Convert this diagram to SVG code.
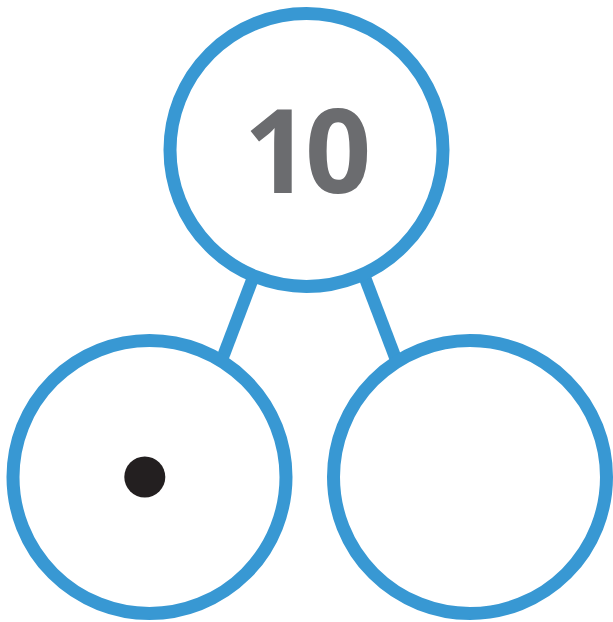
<svg xmlns="http://www.w3.org/2000/svg" width="613" height="622" viewBox="0 0 613 622">
  <style>
    .ring { fill: #ffffff; stroke: #3898d3; stroke-width: 13; }
    .conn { stroke: #3898d3; stroke-width: 12.5; fill: none; }
    .num { font-family: "Open Sans", "Liberation Sans", sans-serif; font-weight: 700; font-size: 116px; letter-spacing: -5px; fill: #6b6c6f; }
  </style>
  <rect width="613" height="622" fill="#ffffff"/>
  <g id="connectors">
    <line class="conn" x1="256" y1="270" x2="221" y2="362"/>
    <line class="conn" x1="362" y1="270" x2="397" y2="362"/>
  </g>
  <g id="node-top">
    <circle class="ring" cx="306.5" cy="150" r="136.5"/>
    <text class="num" x="305" y="193" text-anchor="middle">10</text>
  </g>
  <g id="node-left">
    <circle class="ring" cx="149.5" cy="477" r="136.5"/>
    <circle cx="144.8" cy="477" r="20.5" fill="#231f20"/>
  </g>
  <g id="node-right">
    <circle class="ring" cx="470" cy="477" r="136.5"/>
  </g>
</svg>
